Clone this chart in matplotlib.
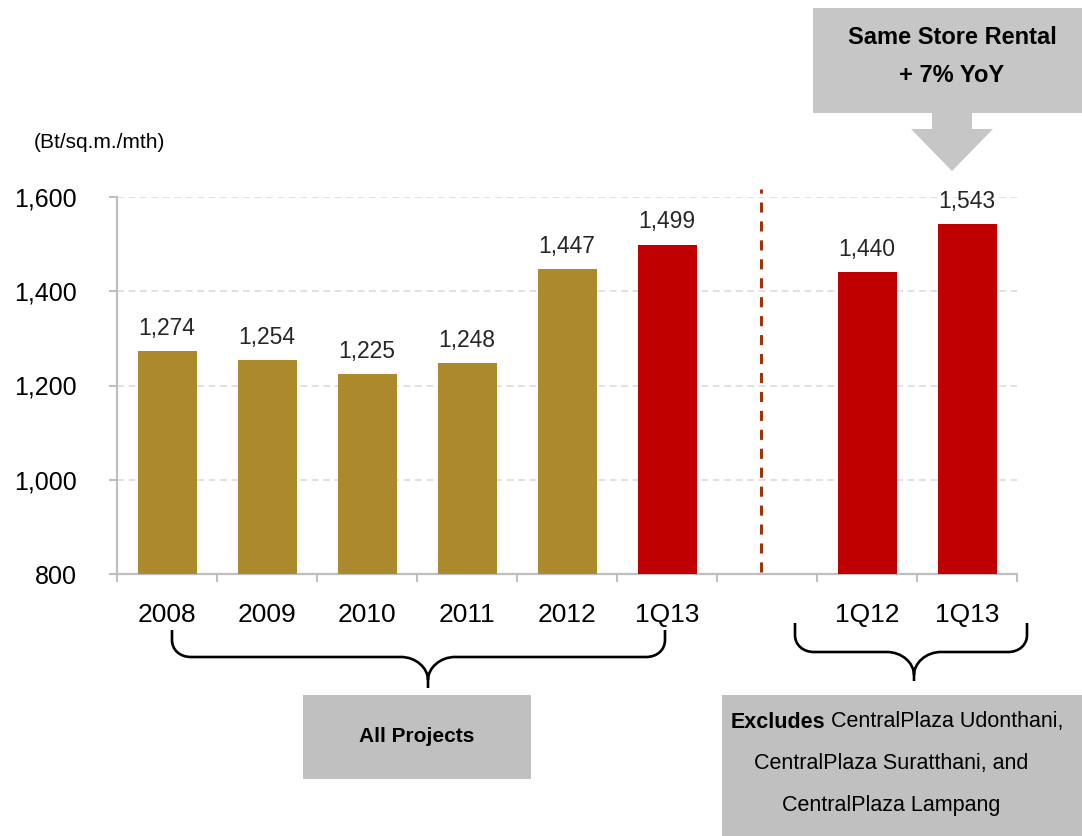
import numpy as np
import matplotlib
matplotlib.use("Agg")
import matplotlib.pyplot as plt
from matplotlib.patches import Rectangle, Polygon, PathPatch
from matplotlib.path import Path

plt.rcParams['font.family'] = ['Liberation Sans', 'DejaVu Sans']

# Average rental rate, all projects
all_labels = ["2008", "2009", "2010", "2011", "2012", "1Q13"]
all_values = [1274, 1254, 1225, 1248, 1447, 1499]
all_colors = ["#AC8A2C"] * 5 + ["#C00000"]

# Same-store rental rate
same_labels = ["1Q12", "1Q13"]
same_values = [1440, 1543]
same_colors = ["#C00000", "#C00000"]

y_ticks = [800, 1000, 1200, 1400, 1600]

GRID_GRAY = "#D9D9D9"
AXIS_GRAY = "#BFBFBF"
BOX_GRAY = "#C0C0C0"

fig = plt.figure(figsize=(10.82, 8.36), dpi=100)
W, H = 1082, 836
ax = fig.add_axes([117 / W, 1 - 574 / H, 900 / W, 377 / H])

# positions: all-project bars, one empty slot, then same-store bars
pos_all = np.arange(len(all_labels))
pos_same = np.arange(len(same_labels)) + len(all_labels) + 1
positions = np.concatenate([pos_all, pos_same])
labels = all_labels + same_labels
values = all_values + same_values
colors = all_colors + same_colors

ax.bar(positions, values, width=0.59, color=colors, zorder=3)
for x, v in zip(positions, values):
    ax.annotate(f"{v:,}", (x, v), xytext=(0, 8), textcoords="offset points",
                ha="center", va="bottom", fontsize=16.5, color="#262626")

n_slots = len(all_labels) + 1 + len(same_labels)
ax.set_xlim(-0.5, n_slots - 0.5)
ax.set_ylim(800, 1600)
ax.set_yticks(y_ticks)
ax.set_yticklabels([f"{t:,}" for t in y_ticks], fontsize=18)
ax.set_xticks(positions)
ax.set_xticklabels(labels, fontsize=19)
ax.tick_params(axis="x", which="major", length=0, pad=21, colors="black")
ax.set_xticks(np.arange(-0.5, n_slots, 1.0), minor=True)
ax.tick_params(axis="x", which="minor", length=5.5, width=1.5, color=AXIS_GRAY)
ax.tick_params(axis="y", length=6, width=1.5, color=AXIS_GRAY, pad=23,
               labelcolor="black")

for t in y_ticks[1:]:
    ax.axhline(t, color=GRID_GRAY, lw=1.1, ls=(0, (4.5, 3)), zorder=1)

for s in ["top", "right"]:
    ax.spines[s].set_visible(False)
for s in ["left", "bottom"]:
    ax.spines[s].set_color(AXIS_GRAY)
    ax.spines[s].set_linewidth(1.6)

# divider between the two groups
div_x = len(all_labels) - 0.06
ax.plot([div_x, div_x], [805, 1616], color="#A0330C", lw=2.2,
        ls=(0, (3.3, 2.9)), clip_on=False, zorder=4)

# overlay in pixel coordinates for annotations
ov = fig.add_axes([0, 0, 1, 1], zorder=5)
ov.set_xlim(0, W)
ov.set_ylim(H, 0)
ov.axis("off")
ov.patch.set_alpha(0)

ov.text(99, 143, "(Bt/sq.m./mth)", fontsize=15, ha="center", va="center",
        color="black")

# callout box with arrow
TOP_GRAY = "#C6C6C6"
ov.add_patch(Rectangle((813, 8), 280, 105, facecolor=TOP_GRAY, edgecolor="none"))
ov.add_patch(Polygon([(932, 112), (972, 112), (972, 129), (993, 129),
                      (952, 171), (911, 129), (932, 129)],
                     closed=True, facecolor=TOP_GRAY, edgecolor="none"))
ov.text(952, 38, "Same Store Rental", fontsize=17, fontweight="bold",
        ha="center", va="center")
ov.text(952, 76, "+ 7% YoY", fontsize=17, fontweight="bold",
        ha="center", va="center")


def brace(x0, x1, xm, ytop, yh, ytip):
    verts = [(x0, ytop),
             (x0, yh - 17),
             (x0, yh - 7), (x0 + 8, yh), (x0 + 19, yh),
             (xm - 27, yh),
             (xm - 12, yh), (xm, yh + 11), (xm, yh + 23),
             (xm, ytip),
             (xm, yh + 23),
             (xm, yh + 11), (xm + 12, yh), (xm + 27, yh),
             (x1 - 19, yh),
             (x1 - 8, yh), (x1, yh - 7), (x1, yh - 17),
             (x1, ytop)]
    codes = [Path.MOVETO,
             Path.LINETO,
             Path.CURVE4, Path.CURVE4, Path.CURVE4,
             Path.LINETO,
             Path.CURVE4, Path.CURVE4, Path.CURVE4,
             Path.LINETO,
             Path.MOVETO,
             Path.CURVE4, Path.CURVE4, Path.CURVE4,
             Path.LINETO,
             Path.CURVE4, Path.CURVE4, Path.CURVE4,
             Path.LINETO]
    ov.add_patch(PathPatch(Path(verts, codes), facecolor="none",
                           edgecolor="black", lw=1.9, capstyle="butt"))


brace(172, 665, 428, 630, 657, 688)
brace(795, 1027, 914, 623, 652, 681)

ov.add_patch(Rectangle((303, 695), 228, 84, facecolor=BOX_GRAY, edgecolor="none"))
ov.text(417, 737, "All Projects", fontsize=15, fontweight="bold",
        ha="center", va="center")

ov.add_patch(Rectangle((722, 695), 370, 150, facecolor=BOX_GRAY, edgecolor="none"))

fig.canvas.draw()
renderer = fig.canvas.get_renderer()
inv = ov.transData.inverted()
t_bold = ov.text(0, 722, "Excludes", fontsize=15.5, fontweight="bold",
                 ha="left", va="center")
t_reg = ov.text(0, 722, " CentralPlaza Udonthani,", fontsize=15.5,
                ha="left", va="center")
wb = t_bold.get_window_extent(renderer).width
wr = t_reg.get_window_extent(renderer).width
start_disp = ov.transData.transform((897, 722))[0] - (wb + wr) / 2
t_bold.set_x(inv.transform((start_disp, 0))[0])
t_reg.set_x(inv.transform((start_disp + wb, 0))[0])
ov.text(891, 763, "CentralPlaza Suratthani, and", fontsize=15.5,
        ha="center", va="center")
ov.text(891, 805, "CentralPlaza Lampang", fontsize=15.5,
        ha="center", va="center")

fig.savefig("out.png", dpi=100)
